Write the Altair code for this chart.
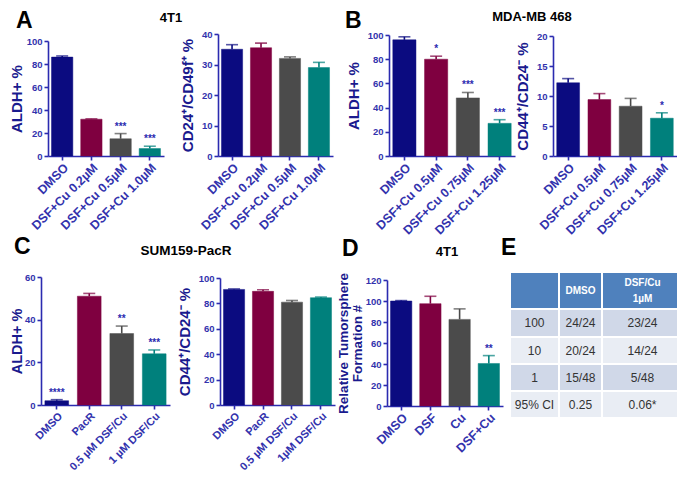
import altair as alt
import pandas as pd

# ---------------- data ----------------
COLORS = ["#0b0b80", "#7f0040", "#4b4b4b", "#00807c"]

A1_CATS = ["DMSO", "DSF+Cu 0.2µM", "DSF+Cu 0.5µM", "DSF+Cu 1.0µM"]
A1_VALS = [86, 32, 15, 6.5]
A1_ERRS = [1.0, 0.3, 4.5, 2.0]
A1_STARS = ["", "", "***", "***"]

A2_CATS = ["DMSO", "DSF+Cu 0.2µM", "DSF+Cu 0.5µM", "DSF+Cu 1.0µM"]
A2_VALS = [35, 35.5, 32, 29]
A2_ERRS = [1.5, 1.5, 0.5, 1.7]
A2_STARS = ["", "", "", ""]

B1_CATS = ["DMSO", "DSF+Cu 0.5µM", "DSF+Cu 0.75µM", "DSF+Cu 1.25µM"]
B1_VALS = [96, 80, 48, 27]
B1_ERRS = [2.5, 2.5, 4.5, 3.0]
B1_STARS = ["", "*", "***", "***"]

B2_CATS = ["DMSO", "DSF+Cu 0.5µM", "DSF+Cu 0.75µM", "DSF+Cu 1.25µM"]
B2_VALS = [12.2, 9.4, 8.3, 6.3]
B2_ERRS = [0.7, 1.0, 1.3, 0.9]
B2_STARS = ["", "", "", "*"]

C1_CATS = ["DMSO", "PacR", "0.5 µM DSF/Cu", "1 µM DSF/Cu"]
C1_VALS = [2, 51, 33.5, 24]
C1_ERRS = [0.5, 1.3, 3.5, 1.8]
C1_STARS = ["****", "", "**", "***"]

C2_CATS = ["DMSO", "PacR", "0.5 µM DSF/Cu", "1µM DSF/Cu"]
C2_VALS = [91, 89.5, 81, 84.5]
C2_ERRS = [0.4, 1.2, 1.3, 0.5]
C2_STARS = ["", "", "", ""]

D_CATS = ["DMSO", "DSF", "Cu", "DSF+Cu"]
D_VALS = [100, 97.5, 82.5, 40.5]
D_ERRS = [0.4, 7.0, 10.0, 7.5]
D_STARS = ["", "", "", "**"]

TBL_HEADER = ["", "DMSO", "DSF/Cu\n1µM"]
TBL_ROWS = [
    ["100", "24/24", "23/24"],
    ["10", "20/24", "14/24"],
    ["1", "15/48", "5/48"],
    ["95% CI", "0.25", "0.06*"],
]

# ---------------- layout / style ----------------
OX, OY = 8, 8
W, H = 669, 469
FONT = "Arial, Liberation Sans, sans-serif"
AXIS_BLUE = "#2b2bb0"
LABEL_BLUE = "#3232ad"
TITLE_BLUE = "#1a1a8e"
COL_W = [49, 43, 81]
ROW_H = [37, 28, 27, 27, 27]
HEAD_LINE = 16


def panel(cats, vals, errs, stars, ymax, ystep, ytitle, xr, yr,
          title_size=15, title_pad=6, xlabel_size=12.5, pin=0.27, pout=0.12):
    df = pd.DataFrame({
        "cat": cats,
        "val": vals,
        "top": [v + e for v, e in zip(vals, errs)],
        "stars": stars,
        "color": COLORS,
    })
    x0, x1 = xr[0] - OX, xr[1] - OX
    yb, yt = yr[0] - OY, yr[1] - OY
    xs = alt.Scale(domain=cats, range=[x0, x1], paddingInner=pin, paddingOuter=pout)
    ys = alt.Scale(domain=[0, ymax], range=[yb, yt], nice=False, zero=True)
    xaxis = alt.Axis(orient="bottom", offset=yb - H, title=None,
                     labelAngle=-45, labelAlign="right", labelBaseline="top",
                     labelOverlap=False, labelFontSize=xlabel_size, labelPadding=1,
                     labelFontWeight="bold", tickSize=4)
    yaxis = alt.Axis(orient="left", offset=-x0, title=ytitle,
                     values=list(range(0, ymax + 1, ystep)),
                     labelFontSize=9.5, labelFlush=False, labelOverlap=False,
                     labelFontWeight="bold",
                     titleFontSize=title_size, titleFontWeight="bold",
                     titleLineHeight=14,
                     titlePadding=title_pad, tickSize=4, labelPadding=2)
    X = alt.X("cat:N", scale=xs, axis=xaxis)
    base = alt.Chart(df)
    bars = base.mark_bar(strokeWidth=0.8, strokeOpacity=0.6).encode(
        x=X,
        y=alt.Y("val:Q", scale=ys, axis=yaxis),
        color=alt.Color("color:N", scale=None),
        stroke=alt.Color("color:N", scale=None),
    )
    rule = base.mark_rule(strokeWidth=1.6).encode(
        x=X,
        y=alt.Y("val:Q", scale=ys, axis=yaxis),
        y2="top:Q",
        color=alt.Color("color:N", scale=None),
    )
    cap = base.mark_tick(thickness=1.6, size=12).encode(
        x=X,
        y=alt.Y("top:Q", scale=ys, axis=yaxis),
        color=alt.Color("color:N", scale=None),
    )
    txt = base.mark_text(dy=-2, baseline="bottom", fontWeight="bold",
                         fontSize=10, font=FONT, color=AXIS_BLUE).encode(
        x=X,
        y=alt.Y("top:Q", scale=ys, axis=yaxis),
        text="stars:N",
    )
    return alt.layer(bars, rule, cap, txt)


def label(text, x, y, size, align="center"):
    return alt.Chart(pd.DataFrame({"t": [text]})).mark_text(
        fontSize=size, fontWeight="bold", font=FONT, align=align,
        baseline="alphabetic", color="black",
    ).encode(text="t:N", x=alt.value(x - OX), y=alt.value(y - OY))


def table(xr, yr):
    cells, head_txt, body_txt = [], [], []
    xedges = [sum(COL_W[:i]) for i in range(len(COL_W) + 1)]
    yedges = [sum(ROW_H[:i]) for i in range(len(ROW_H) + 1)]
    rows = [TBL_HEADER] + TBL_ROWS
    for r, row in enumerate(rows):
        fill = "#4f81bd" if r == 0 else ("#d0d8e8" if r % 2 == 1 else "#e9edf4")
        for c, t in enumerate(row):
            cells.append({"x0": xedges[c], "x1": xedges[c + 1],
                          "y0": yedges[r], "y1": yedges[r + 1], "fill": fill})
            xm = (xedges[c] + xedges[c + 1]) / 2
            ym = (yedges[r] + yedges[r + 1]) / 2
            if r == 0:
                lines = t.split("\n")
                n = len(lines)
                for i, ln in enumerate(lines):
                    head_txt.append({"xm": xm, "ym": ym + (i - (n - 1) / 2) * HEAD_LINE, "t": ln})
            else:
                body_txt.append({"xm": xm, "ym": ym, "t": t})
    xs = alt.Scale(domain=[0, xedges[-1]], range=[xr[0] - OX, xr[1] - OX], nice=False, zero=False)
    ys = alt.Scale(domain=[0, yedges[-1]], range=[yr[0] - OY, yr[1] - OY], nice=False, zero=False)
    rect = alt.Chart(pd.DataFrame(cells)).mark_rect(stroke="white", strokeWidth=2).encode(
        x=alt.X("x0:Q", scale=xs, axis=None), x2="x1:Q",
        y=alt.Y("y0:Q", scale=ys, axis=None), y2="y1:Q",
        color=alt.Color("fill:N", scale=None),
    )
    htxt = alt.Chart(pd.DataFrame(head_txt)).mark_text(
        font=FONT, fontSize=10, fontWeight="bold", color="white",
        baseline="middle",
    ).encode(
        x=alt.X("xm:Q", scale=xs, axis=None),
        y=alt.Y("ym:Q", scale=ys, axis=None),
        text="t:N",
    )
    btxt = alt.Chart(pd.DataFrame(body_txt)).mark_text(
        font=FONT, fontSize=12, color="#333333", baseline="middle",
    ).encode(
        x=alt.X("xm:Q", scale=xs, axis=None),
        y=alt.Y("ym:Q", scale=ys, axis=None),
        text="t:N",
    )
    return alt.layer(rect, htxt, btxt)


layers = [
    panel(A1_CATS, A1_VALS, A1_ERRS, A1_STARS, 100, 20, "ALDH+ %", (48, 164), (156, 41),
          title_pad=2),
    panel(A2_CATS, A2_VALS, A2_ERRS, A2_STARS, 40, 10, "CD24⁺/CD49f⁺ %", (218, 333), (156, 34)),
    panel(B1_CATS, B1_VALS, B1_ERRS, B1_STARS, 100, 20, "ALDH+ %", (389, 515), (156, 35)),
    panel(B2_CATS, B2_VALS, B2_ERRS, B2_STARS, 20, 5, "CD44⁺/CD24⁻ %", (553, 677), (156, 36)),
    panel(C1_CATS, C1_VALS, C1_ERRS, C1_STARS, 60, 20, "ALDH+ %", (41, 170), (405, 277),
          title_size=14.5, title_pad=0, xlabel_size=11),
    panel(C2_CATS, C2_VALS, C2_ERRS, C2_STARS, 100, 20, "CD44⁺/CD24⁻ %", (220, 335), (405, 278),
          xlabel_size=11),
    panel(D_CATS, D_VALS, D_ERRS, D_STARS, 120, 20, ["Relative Tumorsphere", "Formation #"],
          (387, 503), (406, 280), title_size=13.5, title_pad=1),
    table((510, 683), (272, 418)),
    label("A", 16, 28, 23, align="left"),
    label("4T1", 171, 22, 13),
    label("B", 345, 28, 23, align="left"),
    label("MDA-MB 468", 532, 21, 13),
    label("C", 14, 254, 23, align="left"),
    label("SUM159-PacR", 186, 255, 13.5),
    label("D", 342, 256, 23, align="left"),
    label("4T1", 447, 256, 13),
    label("E", 501, 255, 23, align="left"),
]

chart = alt.layer(*layers).resolve_scale(
    x="independent", y="independent"
).resolve_axis(
    x="independent", y="independent"
).properties(
    width=W, height=H, padding=0,
    autosize=alt.AutoSizeParams(type="none"),
).configure_view(stroke=None).configure_axis(
    domainColor=AXIS_BLUE, domainWidth=1.6,
    tickColor=AXIS_BLUE, tickWidth=1.6,
    labelColor=LABEL_BLUE, labelFont=FONT, labelFontWeight="bold",
    titleColor=TITLE_BLUE, titleFont=FONT, titleFontWeight="bold",
    grid=False,
)

chart.save("out.html", embed_options={"renderer": "svg", "actions": False})
